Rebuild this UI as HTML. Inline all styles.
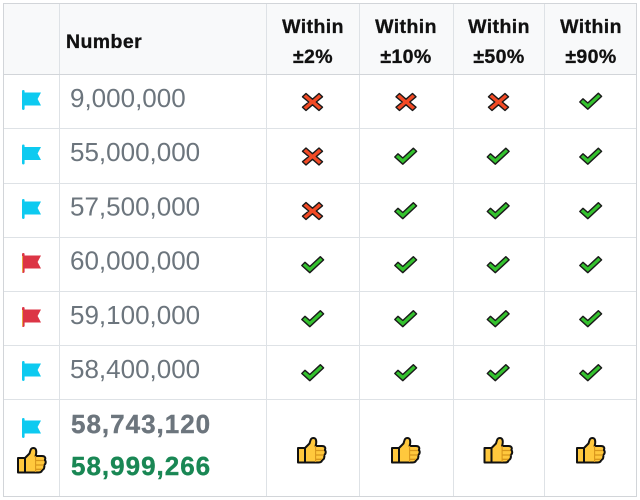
<!DOCTYPE html>
<html>
<head>
<meta charset="utf-8">
<style>
html,body{margin:0;padding:0;background:#fff;}
svg{display:block;}
text{font-family:"Liberation Sans",Arial,sans-serif;}
</style>
</head>
<body>
<svg width="640" height="500" viewBox="0 0 640 500" xmlns="http://www.w3.org/2000/svg">
<defs>
  <g id="flagB">
    <rect x="0" y="0" width="2.6" height="20" rx="1.2" fill="#0dcaf0"/>
    <path d="M2 2.5 H19 L15.6 9 L19 15.5 H2 Z" fill="#0dcaf0"/>
  </g>
  <g id="flagR">
    <rect x="0" y="0" width="2.6" height="20" rx="1.2" fill="#dc3545"/>
    <rect x="0" y="3" width="1" height="16" fill="#e8a640"/>
    <path d="M2 2.5 H19 L15.6 9 L19 15.5 H2 Z" fill="#dc3545"/>
  </g>
  <g id="cross">
    <path d="M4 1.5 L10.5 7.2 L17 1.5 L20.5 4.8 L14.3 10 L20.5 15.2 L17 18.5 L10.5 12.8 L4 18.5 L0.5 15.2 L6.7 10 L0.5 4.8 Z" fill="#f34a25" stroke="#1a1a1a" stroke-width="1.4" stroke-linejoin="round"/>
  </g>
  <g id="check">
    <path d="M0.8 10 L4 6.8 L8.8 11 L19.4 1.2 L22.6 4.4 L8.8 17.2 Z" fill="#34c22e" stroke="#1a1a1a" stroke-width="1.4" stroke-linejoin="round"/>
  </g>
  <g id="thumb">
    <path d="M1 11 H8 V25.5 H1 Z" fill="#ffc83d" stroke="#111" stroke-width="2" stroke-linejoin="round"/>
    <path d="M8 11 L12.5 6.5 C13.5 3.5 13.5 1 16.5 1 C19.5 1 19.8 5 18.6 9 H25 C28 9 29 11 27.8 13 C29.2 14.3 29 17 27 18 C28 20 27 22.8 25 23 C25 24.8 23.5 25.5 21.5 25.5 H8 Z" fill="#ffc83d" stroke="#111" stroke-width="2" stroke-linejoin="round"/>
    <path d="M19 13.5 H27 M19 18 H27 M19 22.3 H25" stroke="#d8961c" stroke-width="1.3"/>
    <path d="M18.6 9 V25" stroke="#d8961c" stroke-width="1.1"/>
  </g>
</defs>

<!-- header background -->
<rect x="3" y="3" width="634" height="71" fill="#f8f9fa"/>

<!-- grid lines -->
<g stroke="#dee2e6" stroke-width="1" shape-rendering="crispEdges">
  <line x1="3" y1="128.5" x2="637" y2="128.5"/>
  <line x1="3" y1="183.5" x2="637" y2="183.5"/>
  <line x1="3" y1="237.5" x2="637" y2="237.5"/>
  <line x1="3" y1="291.5" x2="637" y2="291.5"/>
  <line x1="3" y1="345.5" x2="637" y2="345.5"/>
  <line x1="3" y1="399.5" x2="637" y2="399.5"/>
  <line x1="59.5" y1="3" x2="59.5" y2="497"/>
  <line x1="266.5" y1="3" x2="266.5" y2="497"/>
  <line x1="359.5" y1="3" x2="359.5" y2="497"/>
  <line x1="453.5" y1="3" x2="453.5" y2="497"/>
  <line x1="544.5" y1="3" x2="544.5" y2="497"/>
</g>
<g stroke="#d2d5d9" stroke-width="1" shape-rendering="crispEdges">
  <line x1="3" y1="74.5" x2="637" y2="74.5"/>
  <line x1="3" y1="3.5" x2="637" y2="3.5"/>
  <line x1="3.5" y1="3" x2="3.5" y2="497"/>
  <line x1="636.5" y1="3" x2="636.5" y2="497"/>
  <line x1="3" y1="496.5" x2="637" y2="496.5"/>
</g>

<!-- header text -->
<g font-weight="bold" font-size="19.5" fill="#111" letter-spacing="0.4" stroke="#111" stroke-width="0.3">
  <text x="66" y="48">Number</text>
  <g text-anchor="middle">
    <text x="313" y="33">Within</text>
    <text x="313" y="63">±2%</text>
    <text x="406" y="33">Within</text>
    <text x="406" y="63">±10%</text>
    <text x="499" y="33">Within</text>
    <text x="499" y="63">±50%</text>
    <text x="591" y="33">Within</text>
    <text x="591" y="63">±90%</text>
  </g>
</g>

<!-- numbers -->
<g font-size="26" fill="#6c757d">
  <text x="70" y="107">9,000,000</text>
  <text x="70" y="161">55,000,000</text>
  <text x="70" y="215.5">57,500,000</text>
  <text x="70" y="269.5">60,000,000</text>
  <text x="70" y="324">59,100,000</text>
  <text x="70" y="378">58,400,000</text>
</g>
<g font-size="26" font-weight="bold" letter-spacing="1" stroke-width="0.4">
  <text x="71" y="433" fill="#6c757d" stroke="#6c757d">58,743,120</text>
  <text x="71" y="475" fill="#198754" stroke="#198754">58,999,266</text>
</g>

<!-- flags -->
<use href="#flagB" x="22" y="90"/>
<use href="#flagB" x="22" y="144.5"/>
<use href="#flagB" x="22" y="199"/>
<use href="#flagR" x="22" y="253"/>
<use href="#flagR" x="22" y="307"/>
<use href="#flagB" x="22" y="361"/>
<use href="#flagB" x="22" y="418"/>
<use href="#thumb" x="17" y="447"/>

<!-- row 1 -->
<use href="#cross" x="302" y="92"/>
<use href="#cross" x="395.5" y="92"/>
<use href="#cross" x="488" y="92"/>
<use href="#check" x="579" y="92"/>
<!-- row 2 -->
<use href="#cross" x="302" y="146.5"/>
<use href="#check" x="394" y="147"/>
<use href="#check" x="486.5" y="147"/>
<use href="#check" x="579" y="147"/>
<!-- row 3 -->
<use href="#cross" x="302" y="201"/>
<use href="#check" x="394" y="201.5"/>
<use href="#check" x="486.5" y="201.5"/>
<use href="#check" x="579" y="201.5"/>
<!-- row 4 -->
<use href="#check" x="301" y="255.5"/>
<use href="#check" x="394" y="255.5"/>
<use href="#check" x="486.5" y="255.5"/>
<use href="#check" x="579" y="255.5"/>
<!-- row 5 -->
<use href="#check" x="301" y="309.5"/>
<use href="#check" x="394" y="309.5"/>
<use href="#check" x="486.5" y="309.5"/>
<use href="#check" x="579" y="309.5"/>
<!-- row 6 -->
<use href="#check" x="301" y="363.5"/>
<use href="#check" x="394" y="363.5"/>
<use href="#check" x="486.5" y="363.5"/>
<use href="#check" x="579" y="363.5"/>
<!-- last row thumbs -->
<use href="#thumb" x="297" y="437"/>
<use href="#thumb" x="391" y="437"/>
<use href="#thumb" x="483.5" y="437"/>
<use href="#thumb" x="576" y="437"/>
</svg>
</body>
</html>
